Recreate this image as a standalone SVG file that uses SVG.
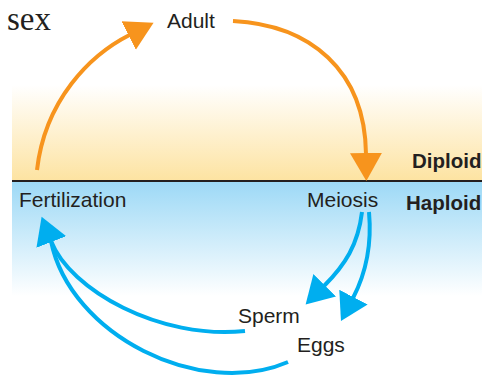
<svg xmlns="http://www.w3.org/2000/svg" width="482" height="382" viewBox="0 0 482 382">
<style>
text{font-family:"Liberation Sans",Arial,sans-serif;font-size:21px;fill:#231f20}
.b{font-weight:bold;font-size:20.5px}
.o{fill:none;stroke:#f7941d;stroke-width:4}
.c{fill:none;stroke:#00aeef;stroke-width:4}
</style>
<defs>
<linearGradient id="dip" x1="0" y1="0" x2="0" y2="1">
<stop offset="0" stop-color="#fde3a1" stop-opacity="0"/>
<stop offset="1" stop-color="#fde3a1"/>
</linearGradient>
<linearGradient id="hap" x1="0" y1="0" x2="0" y2="1">
<stop offset="0" stop-color="#9dd9f6"/>
<stop offset="1" stop-color="#9dd9f6" stop-opacity="0"/>
</linearGradient>
<marker id="ao" markerUnits="userSpaceOnUse" markerWidth="30" markerHeight="34" refX="1" refY="16" orient="auto" viewBox="0 0 30 32">
<path d="M0,0 L28,16 L0,32 z" fill="#f7941d"/>
</marker>
<marker id="ab" markerUnits="userSpaceOnUse" markerWidth="30" markerHeight="34" refX="1" refY="16" orient="auto" viewBox="0 0 30 32">
<path d="M0,0 L27,16 L0,32 z" fill="#00aeef"/>
</marker>
</defs>
<rect x="12" y="85" width="470" height="96" fill="url(#dip)"/>
<rect x="12" y="182" width="470" height="114" fill="url(#hap)"/>
<line x1="12" y1="181" x2="482" y2="181" stroke="#231f20" stroke-width="2"/>
<text x="7" y="29.5" style="font-family:'Liberation Serif','Times New Roman',serif;font-size:33px">sex</text>
<text class="b" x="412" y="168">Diploid</text>
<text class="b" x="406" y="210">Haploid</text>
<g id="connectors">
<path class="o" d="M37,170 C45,100 90,55 129.5,35" marker-end="url(#ao)"/>
<path class="o" d="M233,21 C310,25 365,70 366,154" marker-end="url(#ao)"/>
<path class="c" d="M362,212 C358,245 345,265 324,286" marker-end="url(#ab)"/>
<path class="c" d="M369,212 C372,245 365,275 353,298" marker-end="url(#ab)"/>
<path class="c" d="M245,331 C160,340 70,290 51,241" marker-end="url(#ab)"/>
<path class="c" d="M288,362 C200,400 70,335 51,241"/>
</g>
<g id="adult"><text x="167" y="28">Adult</text></g>
<g id="meiosis"><text x="307" y="207">Meiosis</text></g>
<g id="fertilization"><text x="19" y="207">Fertilization</text></g>
<g id="sperm"><text x="238" y="323">Sperm</text></g>
<g id="eggs"><text x="297" y="352">Eggs</text></g>
</svg>
